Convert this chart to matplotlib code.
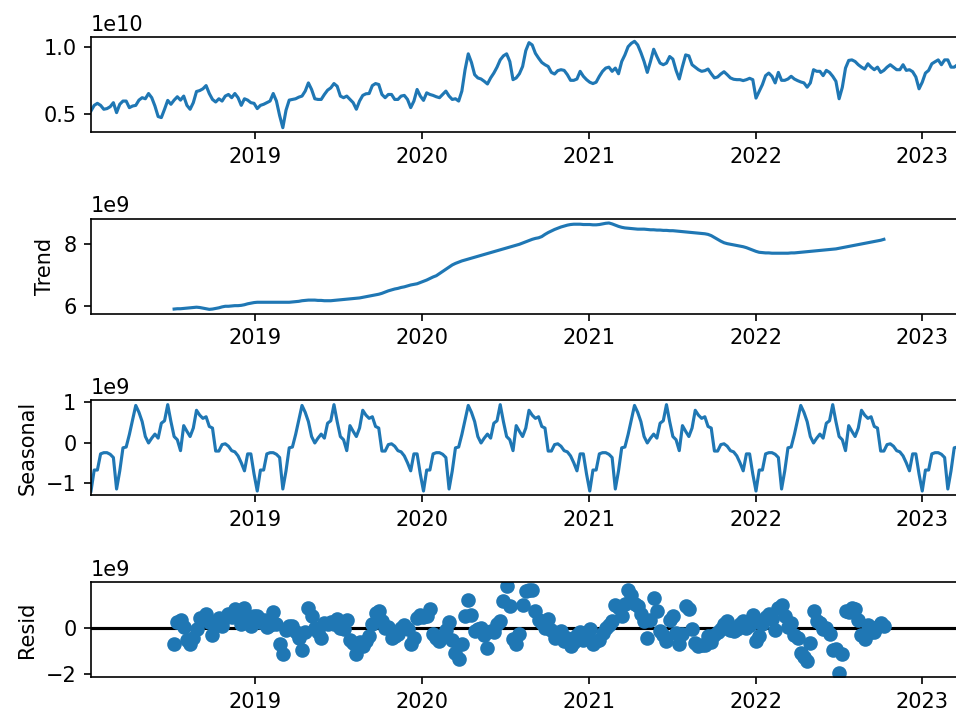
import numpy as np
import pandas as pd
import matplotlib
matplotlib.use('Agg')
import matplotlib.pyplot as plt

# weekly series, values in billions
dates = pd.date_range('2018-01-07', periods=275, freq='W-SUN')

observed_bn = [
    5.25, 5.66, 5.81, 5.66, 5.37, 5.42, 5.56, 5.86, 5.12, 5.74,
    5.98, 5.98, 5.49, 5.61, 5.66, 6.05, 6.23, 6.15, 6.54, 6.23,
    5.61, 4.83, 4.75, 5.37, 6.03, 5.74, 6.05, 6.30, 6.05, 6.35,
    5.66, 5.37, 5.86, 6.69, 6.76, 6.89, 7.13, 6.54, 6.10, 5.91,
    6.15, 5.98, 6.35, 6.47, 6.23, 6.54, 6.23, 5.66, 6.15, 6.05,
    5.86, 5.81, 5.42, 5.66, 5.74, 5.86, 5.98, 6.54, 5.98, 4.90,
    4.00, 5.30, 6.05, 6.10, 6.15, 6.27, 6.35, 6.72, 7.33, 6.84,
    6.15, 6.10, 6.10, 6.47, 6.79, 6.96, 7.28, 7.08, 6.35, 6.23,
    6.35, 6.10, 5.86, 5.37, 5.98, 6.40, 6.52, 6.54, 7.13, 7.28,
    7.21, 6.47, 6.23, 6.47, 6.47, 6.10, 6.10, 6.35, 6.40, 6.10,
    5.49, 5.98, 6.84, 6.35, 6.03, 6.59, 6.47, 6.40, 6.30, 6.23,
    6.47, 6.72, 6.35, 6.10, 6.15, 5.98, 6.72, 8.31, 9.49, 8.85,
    7.94, 7.70, 7.62, 7.45, 7.25, 7.70, 8.06, 8.50, 9.04, 9.34,
    9.49, 8.92, 7.57, 7.70, 8.01, 8.55, 9.73, 10.32, 10.15, 9.53,
    9.17, 8.85, 8.68, 8.55, 8.11, 7.99, 8.24, 8.31, 8.26, 7.94,
    7.52, 7.52, 7.62, 8.19, 7.82, 7.57, 7.38, 7.28, 7.38, 7.82,
    8.19, 8.43, 8.50, 8.19, 8.43, 8.01, 8.92, 9.41, 10.02, 10.27,
    10.42, 10.15, 9.58, 8.92, 8.11, 8.92, 9.83, 9.29, 8.80, 8.68,
    8.80, 9.29, 9.10, 8.26, 7.62, 8.55, 9.41, 9.34, 8.68, 8.50,
    8.31, 8.19, 8.24, 8.36, 8.01, 7.70, 7.77, 7.99, 8.16, 7.94,
    7.70, 7.60, 7.57, 7.57, 7.50, 7.57, 7.67, 7.57, 6.20, 6.70,
    7.20, 7.87, 8.06, 7.82, 7.33, 8.11, 7.52, 7.52, 7.62, 7.82,
    7.62, 7.50, 7.40, 7.33, 7.01, 7.33, 8.31, 8.19, 8.19, 7.87,
    8.26, 8.11, 7.82, 7.45, 6.15, 7.00, 8.43, 9.00, 9.04, 8.92,
    8.68, 8.50, 8.36, 8.75, 8.50, 8.31, 8.50, 8.11, 8.26, 8.50,
    8.68, 8.50, 8.31, 8.31, 8.68, 8.26, 8.31, 8.16, 7.77, 6.89,
    7.38, 8.06, 8.26, 8.75, 8.90, 9.04, 8.68, 9.04, 9.04, 8.50,
    8.50, 8.68, 8.60, 8.70, 8.55,
]

# trend and resid exist from week 26 to week 248
trend_start = 26
trend_bn = [
    5.90, 5.91, 5.91, 5.92, 5.93, 5.94, 5.95, 5.96, 5.95, 5.93,
    5.91, 5.89, 5.90, 5.92, 5.94, 5.97, 5.99, 5.99, 6.00, 6.01,
    6.01, 6.02, 6.04, 6.07, 6.09, 6.11, 6.12, 6.12, 6.12, 6.12,
    6.12, 6.12, 6.12, 6.12, 6.12, 6.12, 6.12, 6.13, 6.14, 6.15,
    6.17, 6.18, 6.19, 6.19, 6.19, 6.18, 6.18, 6.17, 6.17, 6.17,
    6.18, 6.19, 6.20, 6.21, 6.22, 6.23, 6.24, 6.25, 6.26, 6.28,
    6.30, 6.32, 6.34, 6.36, 6.38, 6.41, 6.45, 6.49, 6.52, 6.55,
    6.57, 6.60, 6.62, 6.65, 6.68, 6.70, 6.72, 6.76, 6.80, 6.84,
    6.89, 6.94, 6.98, 7.05, 7.12, 7.19, 7.26, 7.33, 7.38, 7.42,
    7.46, 7.49, 7.52, 7.55, 7.58, 7.61, 7.64, 7.67, 7.70, 7.73,
    7.76, 7.79, 7.82, 7.85, 7.88, 7.91, 7.94, 7.97, 8.00, 8.04,
    8.08, 8.12, 8.16, 8.19, 8.21, 8.25, 8.32, 8.38, 8.43, 8.48,
    8.52, 8.56, 8.59, 8.62, 8.64, 8.65, 8.65, 8.65, 8.64, 8.64,
    8.64, 8.63, 8.63, 8.64, 8.66, 8.68, 8.69, 8.66, 8.62, 8.58,
    8.55, 8.53, 8.52, 8.51, 8.50, 8.49, 8.49, 8.49, 8.48, 8.47,
    8.47, 8.46, 8.46, 8.45, 8.45, 8.44, 8.44, 8.43, 8.42, 8.41,
    8.40, 8.39, 8.38, 8.37, 8.36, 8.35, 8.34, 8.32, 8.28, 8.22,
    8.16, 8.10, 8.05, 8.02, 8.00, 7.98, 7.96, 7.94, 7.92, 7.89,
    7.85, 7.81, 7.77, 7.74, 7.73, 7.72, 7.72, 7.71, 7.71, 7.71,
    7.71, 7.71, 7.71, 7.72, 7.72, 7.73, 7.74, 7.75, 7.76, 7.77,
    7.78, 7.79, 7.80, 7.81, 7.82, 7.83, 7.84, 7.85, 7.87, 7.89,
    7.91, 7.93, 7.95, 7.97, 7.99, 8.01, 8.03, 8.05, 8.07, 8.09,
    8.11, 8.13, 8.16,
]

resid_bn = [
    -0.70, 0.25, 0.34, 0.01, -0.55, -0.72, -0.45, -0.07, 0.40, 0.36,
    0.58, 0.25, -0.30, 0.20, 0.42, 0.06, 0.39, 0.57, 0.43, 0.80,
    0.55, 0.14, 0.84, 0.26, 0.05, 0.48, 0.50, 0.22, 0.30, 0.02,
    0.11, 0.67, 0.15, -0.72, -1.15, -0.12, 0.06, 0.08, -0.19, -0.44,
    -0.95, -0.21, 0.85, 0.50, -0.03, -0.19, -0.44, 0.19, 0.14, 0.25,
    0.16, 0.37, 0.00, -0.05, 0.33, -0.55, -0.66, -1.15, -0.64, -0.80,
    -0.58, -0.38, 0.15, 0.62, 0.70, 0.27, -0.01, 0.03, -0.44, -0.36,
    -0.27, -0.02, 0.11, -0.05, -0.72, -0.44, 0.40, 0.55, 0.43, 0.50,
    0.77, -0.26, -0.43, -0.57, -0.36, -0.10, 0.24, -0.53, -1.10, -1.36,
    -0.72, 0.48, 1.19, 0.55, -0.16, -0.06, -0.01, -0.33, -0.87, -0.14,
    -0.18, 0.17, 0.28, 1.12, 1.76, 0.94, -0.51, -0.69, -0.27, 0.98,
    1.55, 1.62, 1.60, 0.70, 0.32, 0.20, 0.00, 0.38, -0.11, -0.44,
    -0.25, -0.16, -0.58, -0.45, -0.80, -0.63, -0.33, -0.18, -0.54, -0.29,
    -0.06, -0.72, -0.57, -0.54, -0.22, 0.00, 0.10, 0.27, 0.96, 0.84,
    0.50, 0.99, 1.62, 1.40, 1.00, 0.91, 0.57, 0.28, -0.44, 0.34,
    1.26, 0.72, -0.14, -0.31, -0.59, 0.33, 0.51, -0.24, -0.72, -0.28,
    0.90, 0.80, -0.06, -0.67, -0.80, -0.76, -0.74, -0.36, -0.63, -0.31,
    -0.18, -0.06, 0.14, 0.27, -0.10, -0.15, -0.06, 0.13, 0.28, -0.04,
    0.10, 0.54, -0.58, -0.36, 0.15, 0.43, 0.59, 0.36, -0.09, 0.84,
    0.96, 0.51, 0.04, 0.21, -0.30, -0.44, -1.08, -1.26, -1.43, -0.65,
    0.70, 0.29, 0.18, -0.05, -0.04, -0.26, -0.96, -0.92, -1.93, -1.15,
    0.72, 0.65, 0.84, 0.80, 0.33, -0.31, -0.51, 0.10, -0.21, -0.18,
    0.03, 0.19, 0.05,
]

# one 52-week seasonal cycle, repeated over the whole range
seasonal_cycle_bn = [
    -1.20, -0.68, -0.68, -0.28, -0.25, -0.25, -0.29, -0.37, -1.15, -0.70,
    -0.13, -0.11, 0.20, 0.56, 0.92, 0.75, 0.52, 0.15, -0.01, 0.11,
    0.21, 0.11, 0.48, 0.54, 0.94, 0.52, 0.15, 0.07, -0.20, 0.42,
    0.28, 0.15, 0.36, 0.80, 0.68, 0.60, 0.64, 0.40, 0.36, -0.21,
    -0.21, -0.05, -0.03, -0.09, -0.20, -0.23, -0.33, -0.50, -0.70, -0.28,
    -0.28, -0.78,
]

observed = pd.Series(np.array(observed_bn) * 1e9, index=dates)
seasonal = pd.Series(np.resize(seasonal_cycle_bn, len(dates)) * 1e9, index=dates)
mid = dates[trend_start:trend_start + len(trend_bn)]
trend = pd.Series(np.array(trend_bn) * 1e9, index=mid)
resid = pd.Series(np.array(resid_bn) * 1e9, index=mid)

fig, axes = plt.subplots(4, 1, figsize=(956 / 150, 715 / 150), dpi=150)
fig.subplots_adjust(left=91 / 956, right=967 / 956, top=1 - 37 / 715,
                    bottom=1 - 677 / 715, hspace=0.912)

xlim = (dates[0], dates[-1])

axes[0].plot(observed.index, observed.values)
axes[1].plot(trend.index, trend.values)
axes[1].set_ylabel('Trend')
axes[2].plot(seasonal.index, seasonal.values)
axes[2].set_ylabel('Seasonal')
axes[3].plot(resid.index, resid.values, marker='o', linestyle='none')
axes[3].plot(xlim, (0, 0), color='#000000', zorder=-3)
axes[3].set_ylabel('Resid')

for ax in axes:
    ax.set_xlim(xlim)

fig.savefig('out.png', dpi=150)
